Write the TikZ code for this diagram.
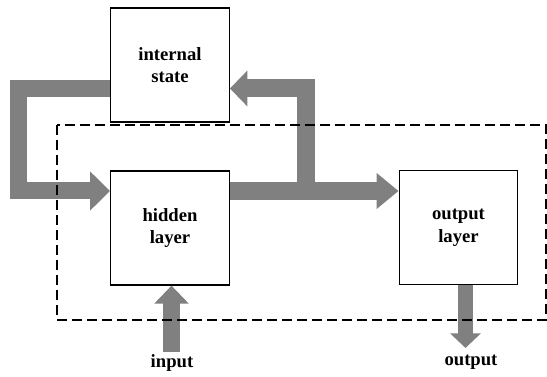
\documentclass[tikz,border=0pt]{standalone}
\usepackage{fontspec}
\setmainfont{Liberation Serif}
\usepackage{xcolor}
\usetikzlibrary{arrows.meta}
\definecolor{flowgray}{RGB}{128,128,128}

\begin{document}
\begin{tikzpicture}[x=0.75pt,y=0.75pt,yscale=-1,xscale=1,
    layer/.style={draw, line width=0.9pt, fill=white, minimum width=89pt, minimum height=85.5pt, align=center, font=\fontsize{14}{17}\selectfont\bfseries},
    lbl/.style={inner sep=0pt, font=\fontsize{14}{17}\selectfont\bfseries},
    flow/.style={draw=flowgray, line join=miter}]
        \useasboundingbox (0,0) rectangle (547,377);

        % boxes and labels
        \node[layer] (state) at (170,65) {internal\\state};
        \node[layer] (hidden) at (170,228) {hidden\\layer};
        \node[layer] (outlayer) at (458.5,227.5) {output\\layer};
        \node[lbl] (in) at (172,363) {input};
        \node[lbl] (out) at (471,362) {output};

        % corners of the thick arrows
        \coordinate (lefttop) at (18.5,88.5);
        \coordinate (leftbot) at (18.5,191);
        \coordinate (split) at (306,191);
        \coordinate (righttop) at (306,88.5);
        \coordinate (inbase) at (171.5,352);
        \coordinate (outtip) at (465.5,348);

        % recurrent loop into the hidden layer
        \draw[flow, line width=12.75pt, -{Triangle[width=28.5pt,length=15pt]}] (state.west |- lefttop) -- (lefttop) -- (leftbot) -- (hidden.west |- leftbot);
        % hidden -> output
        \draw[flow, line width=13.5pt, -{Triangle[width=26pt,length=16.5pt]}] (hidden.east |- split) -- (outlayer.west |- split);
        % copy back into the internal state
        \draw[flow, line width=13.5pt, -{Triangle[width=26pt,length=13pt]}] (split) -- (righttop) -- (state.east |- righttop);
        % input and output
        \draw[flow, line width=12.75pt, -{Triangle[width=25pt,length=13.5pt]}] (inbase) -- (inbase |- hidden.south);
        \draw[flow, line width=11pt, -{Triangle[width=22.5pt,length=11pt]}] (outtip |- outlayer.south) -- (outtip);

        % network boundary
        \draw[line width=0.9pt, dash pattern=on 7.5pt off 3.75pt] (57,125) rectangle (546,320);
\end{tikzpicture}
\end{document}
